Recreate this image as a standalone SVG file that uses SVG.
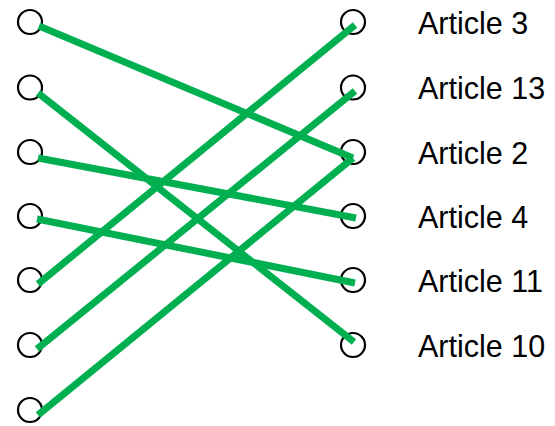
<svg xmlns="http://www.w3.org/2000/svg" width="555" height="426" viewBox="0 0 555 426">
<style>
.node circle{fill:none;stroke:#000;stroke-width:2.2}
.node text{font-family:"Liberation Sans",Arial,sans-serif;font-size:30.5px;fill:#000}
#connectors line{stroke:#00b050;stroke-width:7}
</style>
<rect width="555" height="426" fill="#fff"/>
<g id="L1" class="node"><circle cx="30" cy="22" r="12"/></g>
<g id="L2" class="node"><circle cx="30" cy="87.5" r="12"/></g>
<g id="L3" class="node"><circle cx="30" cy="152" r="12"/></g>
<g id="L4" class="node"><circle cx="30" cy="216" r="12"/></g>
<g id="L5" class="node"><circle cx="30" cy="280" r="12"/></g>
<g id="L6" class="node"><circle cx="30" cy="345" r="12"/></g>
<g id="L7" class="node"><circle cx="30" cy="410" r="12"/></g>
<g id="R1" class="node"><circle cx="353" cy="22" r="12"/><text x="418" y="34">Article 3</text></g>
<g id="R2" class="node"><circle cx="353" cy="87.5" r="12"/><text x="418" y="99">Article 13</text></g>
<g id="R3" class="node"><circle cx="353" cy="152" r="12"/><text x="418" y="164">Article 2</text></g>
<g id="R4" class="node"><circle cx="353" cy="216" r="12"/><text x="418" y="228">Article 4</text></g>
<g id="R5" class="node"><circle cx="353" cy="280" r="12"/><text x="418" y="292">Article 11</text></g>
<g id="R6" class="node"><circle cx="353" cy="345" r="12"/><text x="418" y="357">Article 10</text></g>
<g id="connectors">
<line x1="39" y1="26" x2="353" y2="158"/>
<line x1="38" y1="93" x2="354" y2="342"/>
<line x1="38" y1="158" x2="356" y2="218"/>
<line x1="37" y1="219" x2="355" y2="283"/>
<line x1="38" y1="284" x2="355" y2="25"/>
<line x1="37" y1="349" x2="355" y2="91"/>
<line x1="38" y1="415" x2="353" y2="158"/>
</g>
</svg>
